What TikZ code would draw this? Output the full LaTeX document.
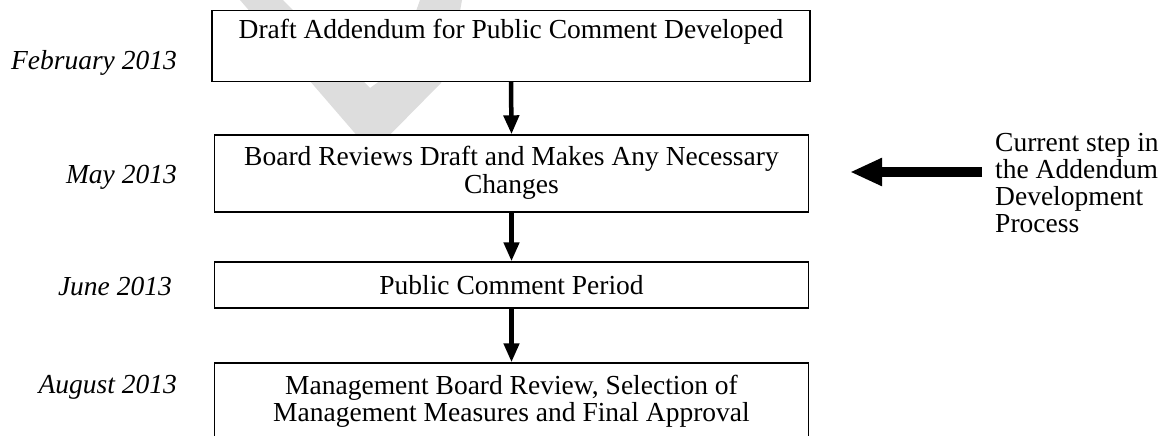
\documentclass[tikz,border=0pt]{standalone}
\usepackage{fontspec}
\setmainfont{Liberation Serif}
\usetikzlibrary{arrows.meta}
\definecolor{wmark}{RGB}{221,221,221}
\tikzset{
  box/.style={draw=black, line width=1.4pt, fill=white, rectangle, inner sep=0pt},
  txt/.style={inner sep=0pt, align=center, font=\fontsize{27.5}{27.5}\selectfont},
  datelbl/.style={inner sep=0pt, anchor=east, font=\fontsize{27.5}{26}\selectfont\itshape},
  note/.style={inner sep=0pt, anchor=west, align=left, font=\fontsize{27.5}{26.7}\selectfont},
  flow/.style={line width=4.5pt, -{Triangle[width=15pt,length=19pt]}},
  bigarrow/.style={line width=10pt, -{Triangle[width=26pt,length=32pt]}}
}
\begin{document}
\begin{tikzpicture}[x=1pt,y=-1pt]
\useasboundingbox (0,0) rectangle (1164,436);
\clip (0,0) rectangle (1164,436);
% watermark
\fill[wmark] (240,0) -- (372,153) -- (441,83) -- (455,40) -- (462,0) -- (420,0) -- (395,70) -- (370,88) -- (283,0) -- cycle;
% boxes
\node[box, minimum width=598pt, minimum height=71pt] (b1) at (511,46) {};
\node[box, minimum width=594pt, minimum height=77pt] (b2) at (511.5,173.5) {};
\node[box, minimum width=594pt, minimum height=46pt] (b3) at (511.5,285) {};
\node[box, minimum width=594pt, minimum height=100pt] (b4) at (511.5,413) {};
% box texts
\node[txt] (t1) at (511,47) {Draft Addendum for Public Comment Developed\\\strut};
\node[txt] (t2) at (511.5,173) {Board Reviews Draft and Makes Any Necessary\\Changes};
\node[txt] (t3) at (511.5,285) {Public Comment Period};
\node[txt] (t4) at (511.5,401.5) {Management Board Review, Selection of\\Management Measures and Final Approval};
% connectors
\draw[flow] (b1.south) -- (b2.north);
\draw[flow] (b2.south) -- (b3.north);
\draw[flow] (b3.south) -- (b4.north);
% dates
\node[datelbl] (d1) at (177,63) {February 2013};
\node[datelbl] (d2) at (177,177) {May 2013};
\node[datelbl] (d3) at (172,287) {June 2013};
\node[datelbl] (d4) at (177,387) {August 2013};
% current step pointer
\coordinate (as) at (982,172);
\coordinate (ae) at (850,172);
\draw[bigarrow] (as) -- (ae);
\node[note] (n1) at (995,183) {Current step in\\the Addendum\\Development\\Process};
\end{tikzpicture}
\end{document}
